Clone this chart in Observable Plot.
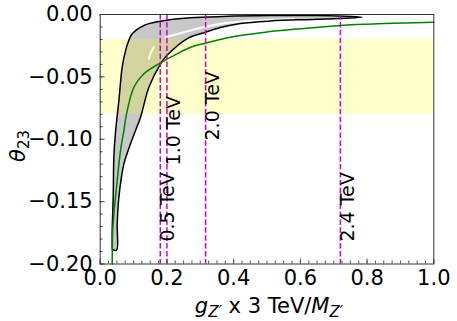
<!DOCTYPE html>
<html><head><meta charset="utf-8">
<script src="https://cdn.jsdelivr.net/npm/d3@7"></script>
<script src="https://cdn.jsdelivr.net/npm/@observablehq/plot@0.6"></script>
<style>body{margin:0;background:#fff} #chart{font-family:"DejaVu Sans"}</style>
</head><body><div id="chart"></div>
<script>
// ---- data ----
const xTicks = [0, 0.2, 0.4, 0.6, 0.8, 1.0];
const yTicks = [0, -0.05, -0.10, -0.15, -0.20];
const bandRange = [-0.08, -0.02];            // yellow band (θ23 range)
// outer (left/top) boundary of the allowed region, bottom → tip
const outerBoundary = [
  [0.036,-0.188],[0.036,-0.173],[0.039,-0.146],[0.041,-0.114],[0.046,-0.094],
  [0.056,-0.069],[0.066,-0.042],[0.076,-0.029],[0.084,-0.022],[0.096,-0.0155],
  [0.131,-0.0088],[0.181,-0.0054],[0.271,-0.0027],[0.37,-0.0016],[0.51,-0.0009],
  [0.65,-0.0008],[0.785,-0.0022]
];
// inner (right/bottom) boundary, tip → bottom
const innerBoundary = [
  [0.785,-0.0022],[0.65,-0.0038],[0.51,-0.0052],[0.42,-0.0072],[0.36,-0.0105],
  [0.316,-0.0142],[0.26,-0.0195],[0.2,-0.0329],[0.181,-0.0395],[0.146,-0.0583],
  [0.121,-0.0823],[0.103,-0.095],[0.085,-0.108],[0.071,-0.1197],[0.056,-0.1465],
  [0.051,-0.168],[0.049,-0.189],[0.036,-0.188]
];
// white contour artefacts inside the region
const whiteStreakA = [[0.146,-0.0355],[0.151,-0.031],[0.161,-0.0262]];
const whiteStreakB = [[0.196,-0.0182],[0.23,-0.0158],[0.271,-0.0128],[0.30,-0.0107],[0.36,-0.0075],[0.42,-0.0058],[0.50,-0.0045],[0.58,-0.0036]];
// green curve
const greenCurve = [
  [0.036,-0.2],[0.0375,-0.173],[0.041,-0.16],[0.051,-0.133],[0.061,-0.109],[0.071,-0.093],
  [0.079,-0.0796],[0.101,-0.0583],[0.131,-0.0475],[0.176,-0.0395],[0.221,-0.0329],
  [0.271,-0.0262],[0.316,-0.023],[0.39,-0.0182],[0.5,-0.014],[0.6,-0.0115],
  [0.72,-0.0088],[0.85,-0.0073],[1.0,-0.0062]
];
// Z' mass lines
const massX = [0.18, 0.2, 0.316, 0.72];
const massLabels = ["0.5 TeV", "1.0 TeV", "2.0 TeV", "2.4 TeV"];
const massLabelY = [-0.182, -0.121, -0.101, -0.182];

// ---- layout ----
const W = 457, H = 321;
const mL = 99.7, mR = 23.7, mT = 14, mB = 57.5;
const plotW = W - mL - mR, plotH = H - mT - mB;

const toPts = arr => arr.map(([x, y]) => ({x, y}));
const region = toPts(outerBoundary.concat(innerBoundary.slice(1)));
region.push(region[0]);
const streaks = toPts(whiteStreakA).map(d => ({...d, s: "a"}))
  .concat(toPts(whiteStreakB).map(d => ({...d, s: "b"})));
const green = toPts(greenCurve);
const masses = massX.map((x, i) => ({x, y: massLabelY[i], label: massLabels[i]}));
const band = [{x1: 0, x2: 1, y1: bandRange[0], y2: bandRange[1]}];
const xMinor = d3.range(0, 1.0001, 0.025);
const yMinor = d3.range(0, -0.2001, -0.01);

const chart = Plot.plot({
  width: W, height: H,
  marginLeft: mL, marginRight: mR, marginTop: mT, marginBottom: mB,
  style: {fontFamily: "DejaVu Sans", fontSize: "21px", background: "white", color: "black", overflow: "visible"},
  x: {domain: [0, 1]},
  y: {domain: [-0.2, 0]},
  marks: [
    Plot.line(region, {x: "x", y: "y", fill: "#c8c8c8", stroke: "none", curve: "catmull-rom"}),
    Plot.line(streaks, {x: "x", y: "y", z: "s", stroke: "white", strokeWidth: 2.2, strokeOpacity: 0.9, curve: "catmull-rom"}),
    Plot.rect(band, {x1: "x1", x2: "x2", y1: "y1", y2: "y2", fill: "#ffff00", fillOpacity: 0.2}),
    Plot.line(region, {x: "x", y: "y", stroke: "black", strokeWidth: 1.5, curve: "catmull-rom"}),
    Plot.line(green, {x: "x", y: "y", stroke: "green", strokeWidth: 1.5, curve: "catmull-rom"}),
    Plot.ruleX(masses, {x: "x", stroke: "#cc00cc", strokeWidth: 1.5, strokeDasharray: "5.5,2.4"}),
    Plot.text(masses, {x: "x", y: "y", text: "label", rotate: -90, textAnchor: "start", lineAnchor: "top", fontSize: 19, fill: "black"}),
    Plot.tickX(xMinor, {x: d => d, stroke: "#555", insetTop: plotH - 3}),
    Plot.tickX(xTicks, {x: d => d, stroke: "#555", insetTop: plotH - 5}),
    Plot.tickY(yMinor, {y: d => d, stroke: "#555", insetRight: plotW - 3}),
    Plot.tickY(yTicks, {y: d => d, stroke: "#555", insetRight: plotW - 5}),
    Plot.axisX({ticks: xTicks, tickSize: 0, tickPadding: 6.5, tickFormat: d3.format(".1f"), fontSize: 21, label: null}),
    Plot.axisY({ticks: yTicks, tickSize: 0, tickPadding: 7.5, tickFormat: d3.format(".2f"), fontSize: 21, label: null}),
    Plot.frame({stroke: "#333", strokeWidth: 1})
  ]
});
document.getElementById("chart").appendChild(chart);

// axis titles with sub/italic parts
const svg = d3.select(chart);
const yl = svg.append("text")
  .attr("transform", `translate(25,146) rotate(-90)`)
  .attr("text-anchor", "middle")
  .style("font-family", "DejaVu Sans").style("font-size", "21px").attr("fill", "black");
yl.append("tspan").style("font-style", "italic").text("θ");
yl.append("tspan").attr("dy", 4).style("font-size", "15px").text("23");

const xl = svg.append("text")
  .attr("x", 269).attr("y", 313)
  .attr("text-anchor", "middle")
  .style("font-family", "DejaVu Sans").style("font-size", "21px").attr("fill", "black");
xl.append("tspan").style("font-style", "italic").text("g");
xl.append("tspan").attr("dy", 4).style("font-size", "15px").style("font-style", "italic").text("Z′");
xl.append("tspan").attr("dy", -4).text(" x 3 TeV/");
xl.append("tspan").style("font-style", "italic").text("M");
xl.append("tspan").attr("dy", 4).style("font-size", "15px").style("font-style", "italic").text("Z′");
</script>
</body></html>
